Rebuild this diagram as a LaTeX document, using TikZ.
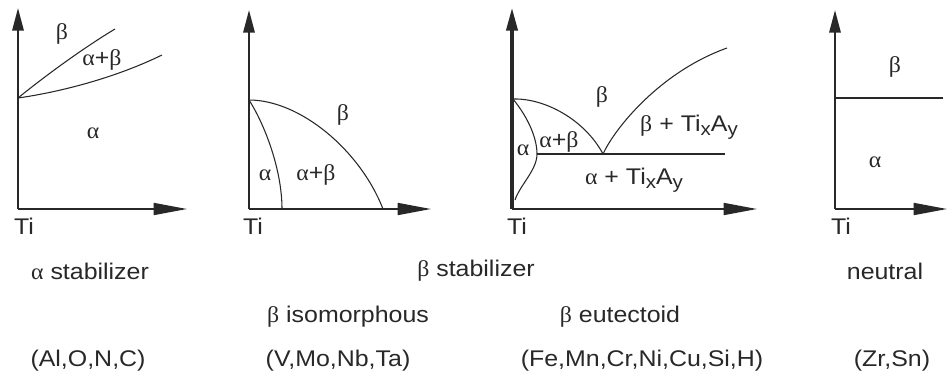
\documentclass[tikz,border=0pt]{standalone}
\usepackage{fontspec}
\setmainfont{Liberation Sans}[FakeStretch=1.1]
\newfontfamily\grkfont{Liberation Serif}[FakeStretch=1.05]
\usetikzlibrary{arrows.meta}
\newcommand{\galpha}{{\grkfont α}}
\newcommand{\gbeta}{{\grkfont β}}
\newcommand{\subx}[1]{\raisebox{-0.35ex}{\fontsize{14}{14}\selectfont #1}}
\definecolor{inkgray}{RGB}{40,40,40}
\tikzset{
  upaxis/.style={line width=1.6pt, color=inkgray, -{Triangle[length=17pt,width=8.5pt]}},
  rightaxis/.style={line width=1.2pt, color=inkgray, -{Triangle[length=25pt,width=9pt]}},
  phaseline/.style={line width=0.8pt, color=inkgray},
  lbl/.style={inner sep=0.75pt, text=inkgray, font=\fontsize{17}{19}\selectfont},
}
\begin{document}
\begin{tikzpicture}[x=0.75pt,y=0.75pt,yscale=-1,xscale=1]
\useasboundingbox (0,0) rectangle (948,383);

% alpha stabilizer panel
\coordinate (oa) at (18,209);
\draw [upaxis] (oa) -- (18,8);
\draw [rightaxis] (oa) -- (187,209);
\draw [phaseline] (18,98) .. controls (40,80) and (80,50) .. (115,29);
\draw [phaseline] (18,98) .. controls (60,92) and (115,78) .. (162,55);

% beta isomorphous panel
\coordinate (ob) at (249,209);
\draw [upaxis] (ob) -- (249,10);
\draw [rightaxis] (ob) -- (431,209);
\draw [phaseline] (249,100) .. controls (300,100) and (360,150) .. (383,209);
\draw [phaseline] (249,100) .. controls (265,125) and (282,170) .. (282,209);

% beta eutectoid panel
\coordinate (oc) at (512,209);
\draw [upaxis, line width=2.3pt] (oc) -- (512,8);
\draw [rightaxis] (oc) -- (757,209);
\draw [phaseline] (513,99) .. controls (545,98) and (585,120) .. (603,154);
\draw [phaseline] (603,154) .. controls (615,128) and (660,72) .. (727,48);
\draw [phaseline] (513,99) .. controls (530,120) and (537,140) .. (537,154) .. controls (537,170) and (520,185) .. (515,200);
\draw [phaseline] (537,154) -- (725,154);

% neutral panel
\coordinate (od) at (835,209);
\draw [upaxis] (od) -- (835,10);
\draw [rightaxis] (od) -- (947,209);
\draw [phaseline] (835,98) -- (943,98);

% Text Node
\node [lbl] (tia) at (24,226) {Ti};
\node [lbl] (tib) at (253,226) {Ti};
\node [lbl] (tic) at (517,226) {Ti};
\node [lbl] (tid) at (841,226) {Ti};

\node [lbl] (ba) at (62,34) {\gbeta};
\node [lbl] (aba) at (102,60) {\galpha+\gbeta};
\node [lbl] (aa) at (93,133) {\galpha};

\node [lbl] (bb) at (343,115) {\gbeta};
\node [lbl] (ab) at (265,175) {\galpha};
\node [lbl] (abb) at (316,175) {\galpha+\gbeta};

\node [lbl] (bc) at (602,97) {\gbeta};
\node [lbl] (abc) at (559,142) {\galpha+\gbeta};
\node [lbl] (ac) at (523,150) {\galpha};
\node [lbl] (btc) at (689,127) {\gbeta\ + Ti\subx{x}A\subx{y}};
\node [lbl] (atc) at (634,180) {\galpha\ + Ti\subx{x}A\subx{y}};

\node [lbl] (bd) at (895,67) {\gbeta};
\node [lbl] (ad) at (875,162) {\galpha};

% captions
\node [lbl] (capa) at (90,271) {\galpha\ stabilizer};
\node [lbl] (capb) at (476,271) {\gbeta\ stabilizer};
\node [lbl] (capd) at (885,271) {neutral};
\node [lbl] (isob) at (348,317) {\gbeta\ isomorphous};
\node [lbl] (eutc) at (620,317) {\gbeta\ eutectoid};
\node [lbl] (ela) at (88,361) {(Al,O,N,C)};
\node [lbl] (elb) at (338,361) {(V,Mo,Nb,Ta)};
\node [lbl] (elc) at (642,361) {(Fe,Mn,Cr,Ni,Cu,Si,H)};
\node [lbl] (eld) at (892,361) {(Zr,Sn)};

\end{tikzpicture}
\end{document}
